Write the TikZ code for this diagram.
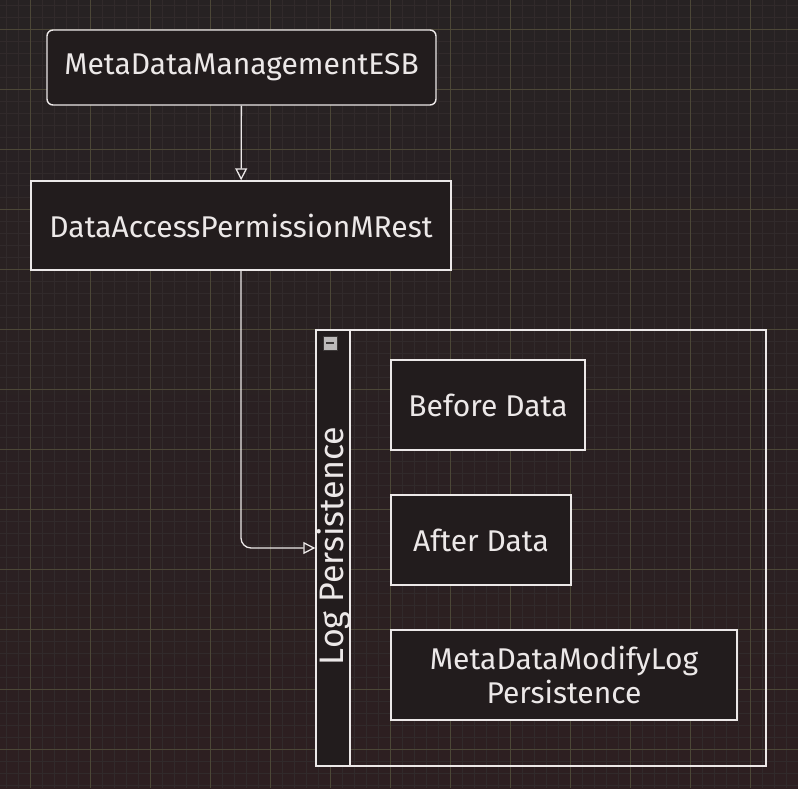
\documentclass[tikz,border=0pt]{standalone}
\usepackage{fontspec}
\setmainfont{Fira Sans}
\usetikzlibrary{arrows.meta}

\definecolor{fondoalto}{HTML}{272223}
\definecolor{fondobasso}{HTML}{2D1F21}
\definecolor{minore}{HTML}{312A2B}
\definecolor{maggiore}{HTML}{4C4737}
\definecolor{linea}{HTML}{ECE8E8}
\definecolor{riemp}{HTML}{221C1D}
\definecolor{icona}{HTML}{BDBABA}
\definecolor{scuro}{HTML}{3A3636}

\tikzset{
  box/.style={draw=linea, fill=riemp, line width=1.4pt, text=linea,
    font=\fontsize{30}{34}\selectfont, inner sep=0pt},
  freccia/.style={draw=linea, line width=1.3pt,
    -{Triangle[open, length=12pt, width=12pt]}},
}

\begin{document}
\begin{tikzpicture}[x=1pt, y=-1pt]
  % Sfondo
  \shade[top color=fondoalto, bottom color=fondobasso] (0,0) rectangle (798,788);
  \useasboundingbox (0,0) rectangle (798,788);
  \foreach \x in {6,18,...,798} \draw[minore, line width=0.5pt] (\x,0) -- (\x,788);
  \foreach \y in {5,17,...,788} \draw[minore, line width=0.5pt] (0,\y) -- (798,\y);
  \foreach \x in {30,90,...,798} \draw[maggiore, line width=0.6pt] (\x,0) -- (\x,788);
  \foreach \y in {29,89,...,788} \draw[maggiore, line width=0.6pt] (0,\y) -- (798,\y);

  % Nodi
  \node[box, rounded corners=6pt, minimum width=389, minimum height=75] (esb) at (241.5,67.5) {MetaDataManagementESB};
  \node[box, minimum width=420, minimum height=89] (rest) at (241,225.5) {DataAccessPermissionMRest};

  \node[draw=linea, line width=1.4pt, minimum width=450, minimum height=436] (pool) at (541,548) {};
  \node[box, minimum width=34, minimum height=436] (lane) at (333,548) {};
  \node[box, draw=none, fill=none, rotate=90, font=\fontsize{34}{38}\selectfont] (titolo) at (334,546) {Log Persistence};
  \node[fill=icona, draw=scuro, line width=0.4pt, minimum size=14, inner sep=0pt] (meno) at (330,343) {\textcolor{scuro}{\rule[0.5pt]{8pt}{2.5pt}}};

  \node[box, minimum width=194, minimum height=90] (prima) at (488,405) {Before Data};
  \node[box, minimum width=180, minimum height=90] (dopo) at (481,540) {After Data};
  \node[box, minimum width=346, minimum height=90, align=center] (modifica) at (564,675) {MetaDataModifyLog\\Persistence};

  % Archi
  \draw[freccia] (esb) -- (rest);
  \draw[freccia, rounded corners=10pt] (rest.south) |- (lane.west);
\end{tikzpicture}
\end{document}
